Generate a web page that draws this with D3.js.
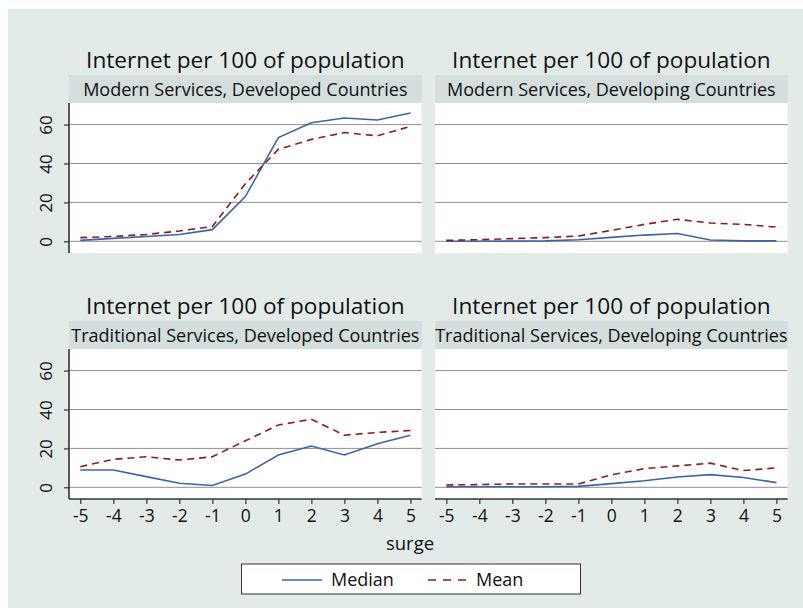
<!DOCTYPE html>
<html>
<head>
<meta charset="utf-8">
<script src="https://cdn.jsdelivr.net/npm/d3@7/dist/d3.min.js"></script>
<style>
  html, body { margin: 0; padding: 0; background: #ffffff; }
  svg { display: block; }
  text { font-family: "Open Sans", "Noto Sans", sans-serif; fill: #111; }
</style>
</head>
<body>
<svg id="chart" width="803" height="608"></svg>
<script>
// Years relative to the surge
const surge = [-5, -4, -3, -2, -1, 0, 1, 2, 3, 4, 5];
const yTicks = [0, 20, 40, 60];

const panelTitle = "Internet per 100 of population";
const panelNames = [
  "Modern Services, Developed Countries",
  "Modern Services, Developing Countries",
  "Traditional Services, Developed Countries",
  "Traditional Services, Developing Countries"
];

// Median and mean internet users per 100 people, by panel
const medianModernDeveloped     = [0.5, 1.5, 2.5, 3.5, 6.0, 23.0, 53.3, 61.0, 63.4, 62.4, 66.0];
const meanModernDeveloped       = [1.9, 2.5, 3.5, 5.3, 7.6, 29.6, 47.3, 52.4, 55.9, 54.2, 59.1];
const medianModernDeveloping    = [0.0, 0.0, 0.1, 0.2, 0.8, 2.0, 3.2, 4.0, 0.7, 0.2, 0.2];
const meanModernDeveloping      = [0.5, 0.8, 1.4, 1.9, 2.7, 5.6, 8.7, 11.3, 9.4, 8.7, 7.3];
const medianTraditionalDeveloped = [8.9, 8.9, 5.5, 2.1, 0.9, 6.8, 16.6, 21.2, 16.6, 22.4, 26.8];
const meanTraditionalDeveloped   = [10.6, 14.4, 15.7, 14.0, 15.7, 23.9, 32.0, 35.0, 26.8, 28.2, 29.2];
const medianTraditionalDeveloping = [0.3, 0.3, 0.3, 0.3, 0.5, 1.9, 3.4, 5.3, 6.5, 5.0, 2.4];
const meanTraditionalDeveloping   = [1.2, 1.4, 1.7, 1.7, 1.7, 6.4, 9.6, 11.0, 12.4, 8.6, 10.0];

const seriesNames = ["Median", "Mean"];

const panels = [
  { name: panelNames[0], median: medianModernDeveloped, mean: meanModernDeveloped, col: 0, row: 0 },
  { name: panelNames[1], median: medianModernDeveloping, mean: meanModernDeveloping, col: 1, row: 0 },
  { name: panelNames[2], median: medianTraditionalDeveloped, mean: meanTraditionalDeveloped, col: 0, row: 1 },
  { name: panelNames[3], median: medianTraditionalDeveloping, mean: meanTraditionalDeveloping, col: 1, row: 1 }
];

const colors = { median: "#4062a8", mean: "#8c1c1c" };

const svg = d3.select("#chart");

// Outer graph region
svg.append("rect")
  .attr("x", 8).attr("y", 9).attr("width", 795).attr("height", 599)
  .attr("fill", "#e2ebe7");

// Panel layout
const colX = [69, 435];
const plotW = 352.7;
const rowStripTop = [75, 321];
const stripH = 28;
const plotH = 150;

panels.forEach(p => {
  const x0 = colX[p.col];
  const stripTop = rowStripTop[p.row];
  const plotTop = stripTop + stripH;

  const x = d3.scaleLinear().domain([-5, 5]).range([x0 + 11.3, x0 + plotW - 11.3]);
  const y = d3.scaleLinear().domain([0, 60]).range([plotTop + 138.3, plotTop + 21.6]);

  const g = svg.append("g");

  // Title above strip
  g.append("text")
    .attr("x", x0 + plotW / 2).attr("y", stripTop - 7)
    .attr("text-anchor", "middle")
    .style("font-size", "22.6px")
    .text(panelTitle);

  // Strip
  g.append("rect")
    .attr("x", x0).attr("y", stripTop).attr("width", plotW).attr("height", stripH)
    .attr("fill", "#d3dedd");
  g.append("text")
    .attr("x", x0 + plotW / 2).attr("y", stripTop + 20.5)
    .attr("text-anchor", "middle")
    .style("font-size", "18px")
    .text(p.name);

  // Plot area
  g.append("rect")
    .attr("x", x0).attr("y", plotTop).attr("width", plotW).attr("height", plotH)
    .attr("fill", "#ffffff");

  // Gridlines
  g.selectAll(".grid").data(yTicks).enter().append("line")
    .attr("x1", x0).attr("x2", x0 + plotW)
    .attr("y1", d => y(d)).attr("y2", d => y(d))
    .attr("stroke", "#8f8f8f").attr("stroke-width", 1);

  // Y axis on left column
  if (p.col === 0) {
    const ax = g.append("g").attr("transform", `translate(${x0},0)`)
      .call(d3.axisLeft(y).tickValues(yTicks).tickSize(5).tickPadding(0).tickFormat(d3.format("d")));
    ax.select(".domain").attr("stroke", "#333").attr("stroke-width", 1.6)
      .attr("d", `M0,${plotTop}V${plotTop + plotH}`);
    ax.selectAll(".tick line").attr("stroke", "#333").attr("stroke-width", 1.2);
    ax.selectAll(".tick text")
      .attr("x", null).attr("dy", null)
      .attr("transform", "translate(-23,0) rotate(-90)")
      .attr("text-anchor", "middle")
      .attr("dy", "0.35em")
      .style("font-size", "17px")
      .style("font-family", "\"Open Sans\", sans-serif")
      .attr("fill", "#111");
  }

  // X axis on bottom row
  if (p.row === 1) {
    const ax = g.append("g").attr("transform", `translate(0,${plotTop + plotH})`)
      .call(d3.axisBottom(x).tickValues(surge).tickSize(5).tickPadding(6)
        .tickFormat(d => String(d)));
    ax.select(".domain").attr("stroke", "#333").attr("stroke-width", 1.6)
      .attr("d", `M${x0},0H${x0 + plotW}`);
    ax.selectAll(".tick line").attr("stroke", "#333").attr("stroke-width", 1.2);
    ax.selectAll(".tick text")
      .style("font-size", "17.5px")
      .style("font-family", "\"Open Sans\", sans-serif")
      .attr("fill", "#111");
  }

  const line = d3.line().x((d, i) => x(surge[i])).y(d => y(d));

  g.append("path").datum(p.median)
    .attr("d", line).attr("fill", "none")
    .attr("stroke", colors.median).attr("stroke-width", 1.6);
  g.append("path").datum(p.mean)
    .attr("d", line).attr("fill", "none")
    .attr("stroke", colors.mean).attr("stroke-width", 1.6)
    .attr("stroke-dasharray", "7,5");
});

// X axis title
svg.append("text")
  .attr("x", 410).attr("y", 550)
  .attr("text-anchor", "middle")
  .style("font-size", "18.5px")
  .text("surge");

// Legend
const lg = svg.append("g");
lg.append("rect")
  .attr("x", 241.5).attr("y", 564).attr("width", 339).attr("height", 30)
  .attr("fill", "#ffffff").attr("stroke", "#333").attr("stroke-width", 1);
const legendItems = [
  { label: seriesNames[0], color: colors.median, dash: null, x1: 282, x2: 322, tx: 331 },
  { label: seriesNames[1], color: colors.mean, dash: "8,7", x1: 428, x2: 467, tx: 476 }
];
legendItems.forEach(it => {
  lg.append("line")
    .attr("x1", it.x1).attr("x2", it.x2).attr("y1", 580).attr("y2", 580)
    .attr("stroke", it.color).attr("stroke-width", 1.6)
    .attr("stroke-dasharray", it.dash);
  lg.append("text")
    .attr("x", it.tx).attr("y", 586)
    .style("font-size", "18px")
    .text(it.label);
});
</script>
</body>
</html>
